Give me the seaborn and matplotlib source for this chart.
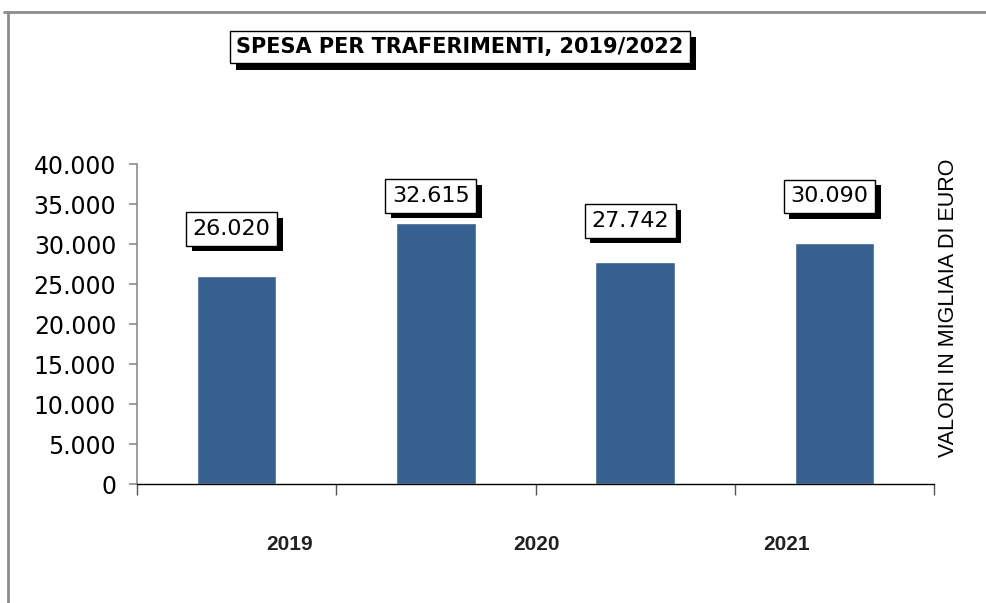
import matplotlib
matplotlib.use("Agg")
import matplotlib.pyplot as plt
import matplotlib.patheffects as pe
from matplotlib.lines import Line2D
import seaborn as sns
import pandas as pd

sns.set_theme(style="white")
plt.rcParams["font.family"] = ["DejaVu Sans"]

# dati
anni = ["2019", "2020", "2021", "2022"]
spesa = [26020, 32615, 27742, 30090]
etichette_asse = ["2019", "2020", "2021"]
yticks = [0, 5000, 10000, 15000, 20000, 25000, 30000, 35000, 40000]

def fmt(v):
    return f"{v:,.0f}".replace(",", ".")

df = pd.DataFrame({"anno": anni, "spesa": spesa})

fig = plt.figure(figsize=(9.86, 6.03), dpi=100)
ax = fig.add_axes([137 / 986, 1 - 484 / 603, 797 / 986, 320 / 603])

sns.barplot(data=df, x="anno", y="spesa", order=anni, color="#36608F",
            width=0.4, saturation=1, ax=ax)

ax.set_xlim(-0.5, 3.5)
ax.set_ylim(0, 40000)
ax.set_yticks(yticks)
ax.set_yticklabels([fmt(v) for v in yticks], fontsize=17, color="black")
ax.set_xticks([-0.5, 0.5, 1.5, 2.5, 3.5])
ax.set_xticklabels([])
ax.set_xlabel("")
ax.set_ylabel("")

for s in ["top", "right"]:
    ax.spines[s].set_visible(False)
ax.spines["left"].set_color("#8c8c8c")
ax.spines["left"].set_linewidth(1.2)
ax.spines["bottom"].set_color("black")
ax.spines["bottom"].set_linewidth(1.0)
ax.tick_params(axis="y", left=True, direction="out", length=6, width=1.2,
               color="#8c8c8c", pad=9)
ax.tick_params(axis="x", bottom=True, direction="out", length=8, width=1.0,
               color="#555555")

# etichette asse x (spostate come nell'originale)
pos_etichette = [0.268, 1.507, 2.762]
for p, t in zip(pos_etichette, etichette_asse):
    ax.text(p, -0.19, t, transform=ax.get_xaxis_transform(), ha="center", va="center",
            fontsize=15, fontweight="bold", family=["Liberation Sans Narrow", "Liberation Sans"],
            color="#222222")

# etichette valori con ombra
offset_y = [47, 27, 41, 47]
for i, (v, dy) in enumerate(zip(spesa, offset_y)):
    t = ax.annotate(fmt(v), (i, v), xytext=(-5 * 0.72, dy * 0.72), textcoords="offset points",
                    ha="center", va="center", fontsize=16, color="black",
                    bbox=dict(boxstyle="square,pad=0.3", fc="white", ec="black", lw=1.0))
    t.get_bbox_patch().set_path_effects([
        pe.SimplePatchShadow(offset=(4, -4), shadow_rgbFace="black", alpha=1.0),
        pe.Normal()])

# titolo
tt = fig.text(460 / 986, 1 - 47 / 603, "SPESA PER TRAFERIMENTI, 2019/2022",
              ha="center", va="center", fontsize=15, fontweight="bold", color="black",
              bbox=dict(boxstyle="square,pad=0.3", fc="white", ec="black", lw=1.0))
tt.get_bbox_patch().set_path_effects([
    pe.SimplePatchShadow(offset=(4.5, -4.5), shadow_rgbFace="black", alpha=1.0),
    pe.Normal()])

# testo laterale
fig.text(948 / 986, 1 - 308 / 603, "VALORI IN MIGLIAIA DI EURO", rotation=90,
         ha="center", va="center", fontsize=15.5, family=["Liberation Sans", "DejaVu Sans"],
         color="black")

# cornice esterna
fig.add_artist(Line2D([4 / 986, 1.0], [1 - 12 / 603] * 2, transform=fig.transFigure,
                      color="#8c8c8c", lw=2))
fig.add_artist(Line2D([8 / 986] * 2, [0, 1 - 12 / 603], transform=fig.transFigure,
                      color="#8c8c8c", lw=2))

fig.savefig("out.png", dpi=100)
